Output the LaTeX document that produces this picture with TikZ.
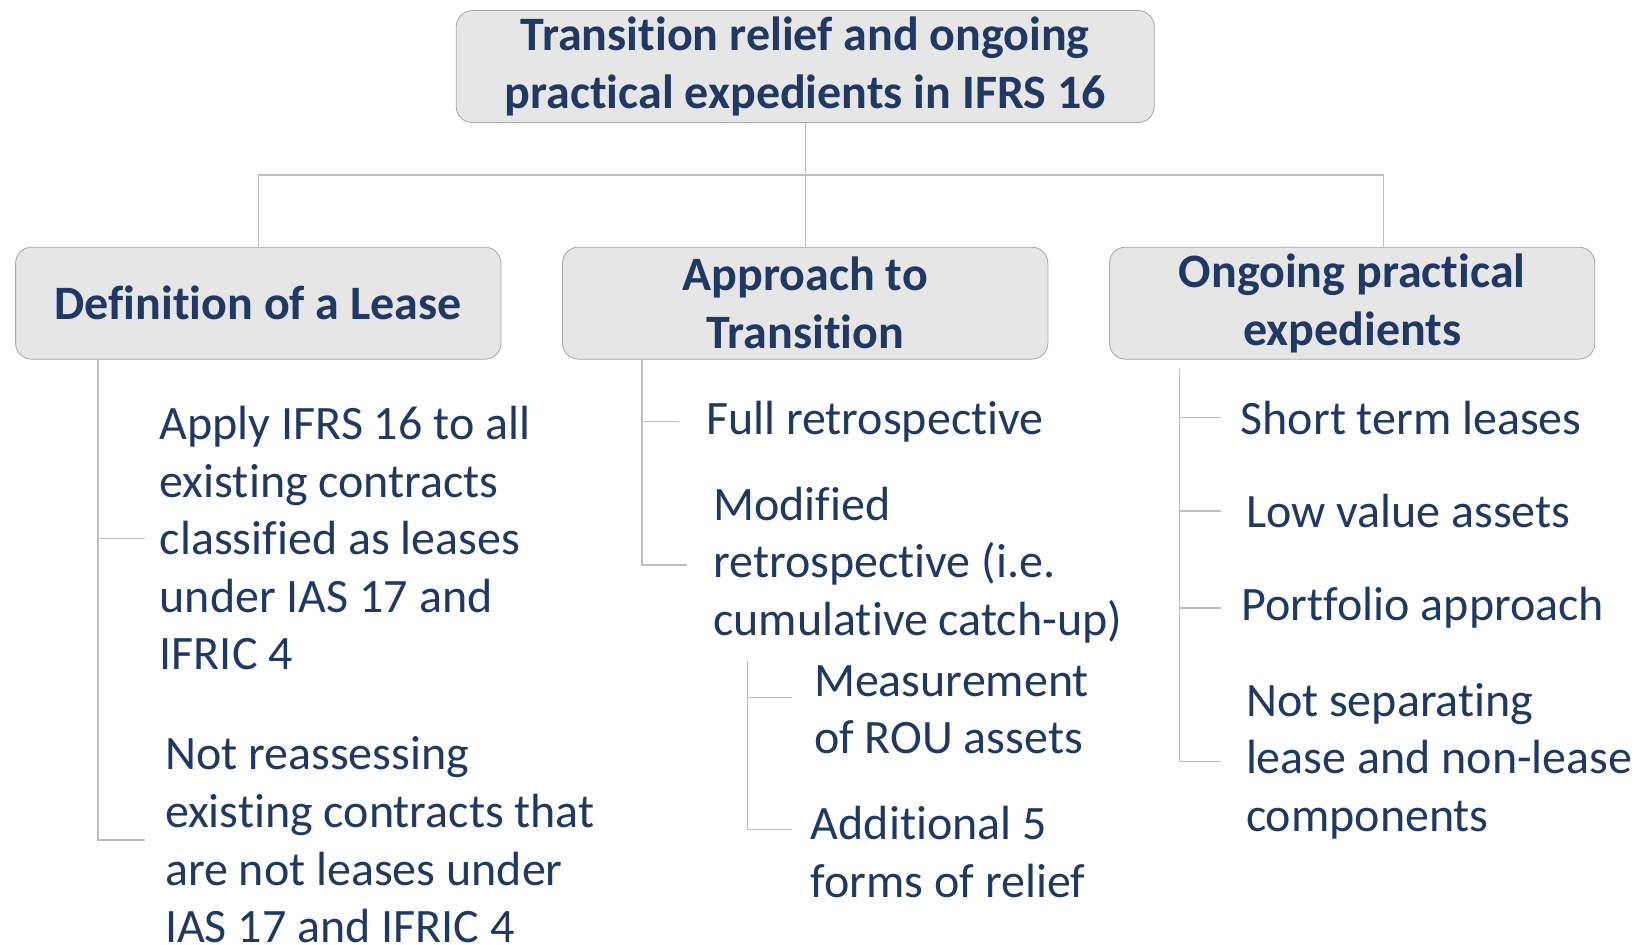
\documentclass[tikz,border=0pt]{standalone}
\usepackage{fontspec}
\setmainfont{Carlito}[Ligatures=NoCommon]
\usepackage{tikz}
\usetikzlibrary{positioning,calc}
\definecolor{TextColor}{HTML}{1F3864}
\definecolor{BoxColor}{HTML}{E6E6E6}
\definecolor{EdgeColor}{HTML}{A6A6A6}
\definecolor{WireColor}{HTML}{BFBFBF}

\begin{document}
\begin{tikzpicture}[x=0.5243pt,y=-0.5243pt,
  head/.style={draw=EdgeColor,fill=BoxColor,rounded corners=8pt,text=TextColor,align=center,font=\bfseries\fontsize{24}{29}\selectfont,minimum width=242.7pt,minimum height=56pt,inner sep=2pt},
  item/.style={anchor=base west,align=left,inner sep=0pt,text=TextColor,font=\fontsize{24}{28.8}\selectfont},
  wire/.style={draw=WireColor,line width=0.7pt}]
  \useasboundingbox (0,0) rectangle (1568,901);
  \node[head,minimum width=349pt] (top) at (768,63.5) {Transition relief and ongoing\\practical expedients in IFRS 16};
  \node[head,below=61.9pt of top] (approach) {Approach to\\Transition};
  \node[head,left=30.4pt of approach] (lease) {Definition of a Lease};
  \node[head,right=30.4pt of approach] (ongoing) {Ongoing practical\\expedients};
  \coordinate (bar) at (768,167);
  \draw[wire] (top) -- (approach);
  \draw[wire] (lease.north) |- (bar) -| ($(ongoing.north)+(30,0)$);

  \node[item] (apply) at (152,639) {Apply IFRS 16 to all\\existing contracts\\classified as leases\\under IAS 17 and\\IFRIC 4};
  \node[item] (reassess) at (157,899) {Not reassessing\\existing contracts that\\are not leases under\\IAS 17 and IFRIC 4};
  \node[item] (full) at (673,414) {Full retrospective};
  \node[item] (modified) at (680,606) {Modified\\retrospective (i.e.\\cumulative catch-up)};
  \node[item] (measure) at (776,719) {Measurement\\of ROU assets};
  \node[item] (relief) at (773,856) {Additional 5\\forms of relief};
  \node[item] (short) at (1183,414) {Short term leases};
  \node[item] (low) at (1188,503) {Low value assets};
  \node[item] (folio) at (1184,592) {Portfolio approach};
  \node[item] (separate) at (1188,793) {Not separating\\lease and non-lease\\components};

  \coordinate (spl) at ($(lease.south west)+(79,0)$);
  \draw[wire] (spl) |- ($(reassess.west)+(-19,0)$);
  \draw[wire] (spl |- apply.west) -- ($(apply.west)+(-14,0)$);
  \coordinate (spm) at ($(approach.south west)+(76,0)$);
  \draw[wire] (spm) |- ($(modified.west)+(-25,0)$);
  \draw[wire] (spm |- full.west) -- ($(full.west)+(-25,0)$);
  \coordinate (sps) at ($(modified.base west)+(33,24)$);
  \coordinate (mt) at ($(measure.base west)+(-21,-54)$);
  \draw[wire] (sps) |- ($(relief.base west)+(-18,-65)$);
  \draw[wire] (sps |- mt) -- (mt);
  \coordinate (spr) at ($(ongoing.south west)+(67,9)$);
  \draw[wire] (spr) |- ($(separate.west)+(-23,0)$);
  \draw[wire] (spr |- short.west) -- ($(short.west)+(-18,0)$);
  \draw[wire] (spr |- low.west) -- ($(low.west)+(-23,0)$);
  \draw[wire] (spr |- folio.west) -- ($(folio.west)+(-19,0)$);
\end{tikzpicture}
\end{document}
